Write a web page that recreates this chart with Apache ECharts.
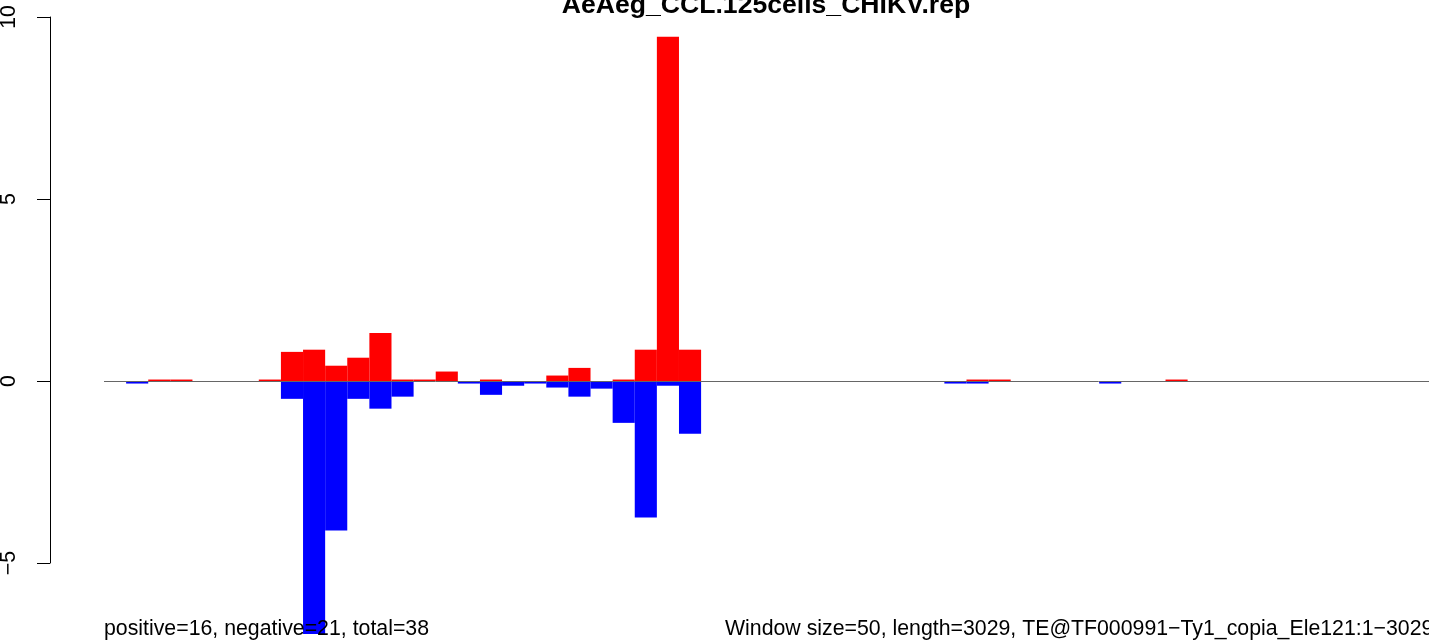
<!DOCTYPE html>
<html>
<head>
<meta charset="utf-8">
<script src="https://cdn.jsdelivr.net/npm/echarts@6/dist/echarts.min.js"></script>
<style>
html,body{margin:0;padding:0;background:#fff;}
#chart{width:1429px;height:641px;}
</style>
</head>
<body>
<div id="chart"></div>
<script>
var windowSize = 50;
var teLength = 3029;
var categories = ["1","51","101","151","201","251","301","351","401","451","501","551","601","651","701","751","801","851","901","951","1001","1051","1101","1151","1201","1251","1301","1351","1401","1451","1501","1551","1601","1651","1701","1751","1801","1851","1901","1951","2001","2051","2101","2151","2201","2251","2301","2351","2401","2451","2501","2551","2601","2651","2701","2751","2801","2851","2901","2951","3001"];
var positiveValues = [null,null,0.04,0.04,null,null,null,0.04,0.80,0.86,
  0.42,0.64,1.32,0.04,0.04,0.26,null,0.04,null,null,
  0.15,0.36,null,0.04,0.86,9.46,0.86,null,null,null,
  null,null,null,null,null,null,null,null,null,0.04,
  0.04,null,null,null,null,null,null,null,0.04,null,
  null,null,null,null,null,null,null,null,null,null,null];
var negativeValues = [null,-0.07,null,null,null,null,null,null,-0.49,-6.95,
  -4.11,-0.49,-0.76,-0.43,null,null,-0.07,-0.38,-0.13,-0.07,
  -0.18,-0.43,-0.21,-1.15,-3.75,-0.13,-1.45,null,null,null,
  null,null,null,null,null,null,null,null,-0.07,-0.07,
  null,null,null,null,null,-0.07,null,null,null,null,
  null,null,null,null,null,null,null,null,null,null,null];
var yTicks = [-5, 0, 5, 10];
var titleText = "AeAeg_CCL.125cells_CHIKV.rep";
var leftNote = "positive=16, negative=21, total=38";
var rightNote = "Window size=50, length=3029, TE@TF000991\u2212Ty1_copia_Ele121:1\u22123029";

var chart = echarts.init(document.getElementById('chart'), null, {renderer:'canvas'});
var font = '"Liberation Sans", Arial, Helvetica, sans-serif';
var option = {
  animation: false,
  backgroundColor: '#ffffff',
  grid: [
    {left: 104, top: 17, width: 1349, height: 624, containLabel: false, outerBoundsMode: 'none'},
    {left: 50, top: 17, width: 10, height: 546, containLabel: false, outerBoundsMode: 'none'}
  ],
  xAxis: [
    {type: 'category', data: categories, gridIndex: 0, show: false, boundaryGap: true},
    {type: 'value', gridIndex: 1, show: false, min: 0, max: 1}
  ],
  yAxis: [
    {type: 'value', gridIndex: 0, min: -7.142857, max: 10, show: false, splitLine:{show:false}},
    {type: 'value', gridIndex: 1, min: yTicks[0], max: yTicks[yTicks.length-1], interval: 5,
     axisLine: {show: true, lineStyle: {color: '#000', width: 1}},
     axisTick: {show: true, length: 13, lineStyle: {color: '#000', width: 1}},
     splitLine: {show: false},
     axisLabel: {show: true, rotate: 90, margin: 30, color: '#000', fontSize: 21.3, fontFamily: font,
       formatter: function(v){ return String(v).replace('-', '\u2212'); }}
    }
  ],
  series: [
    {type: 'bar', name: 'positive', xAxisIndex: 0, yAxisIndex: 0, stack: 'w', data: positiveValues,
     barWidth: '100%', itemStyle: {color: '#FF0000'}, z: 2,
     markLine: {silent: true, symbol: ['none','none'], label: {show: false}, z: 5,
       lineStyle: {color: '#666666', width: 1, type: 'solid'}, emphasis: {disabled: true},
       data: [{yAxis: 0}]}},
    {type: 'bar', name: 'negative', xAxisIndex: 0, yAxisIndex: 0, stack: 'w', data: negativeValues,
     barWidth: '100%', itemStyle: {color: '#0000FF'}, z: 2}
  ],
  graphic: [
    {type: 'text', x: 766, y: 6, z: 10,
     style: {text: titleText, font: 'bold 26.6px ' + font, fill: '#000', textAlign: 'center', textVerticalAlign: 'middle'}},
    {type: 'text', x: 104, y: 629, z: 10,
     style: {text: leftNote, font: '21.3px ' + font, fill: '#000', textAlign: 'left', textVerticalAlign: 'middle'}},
    {type: 'text', x: 725, y: 629, z: 10,
     style: {text: rightNote, font: '21.3px ' + font, fill: '#000', textAlign: 'left', textVerticalAlign: 'middle'}}
  ]
};
chart.setOption(option);
</script>
</body>
</html>
